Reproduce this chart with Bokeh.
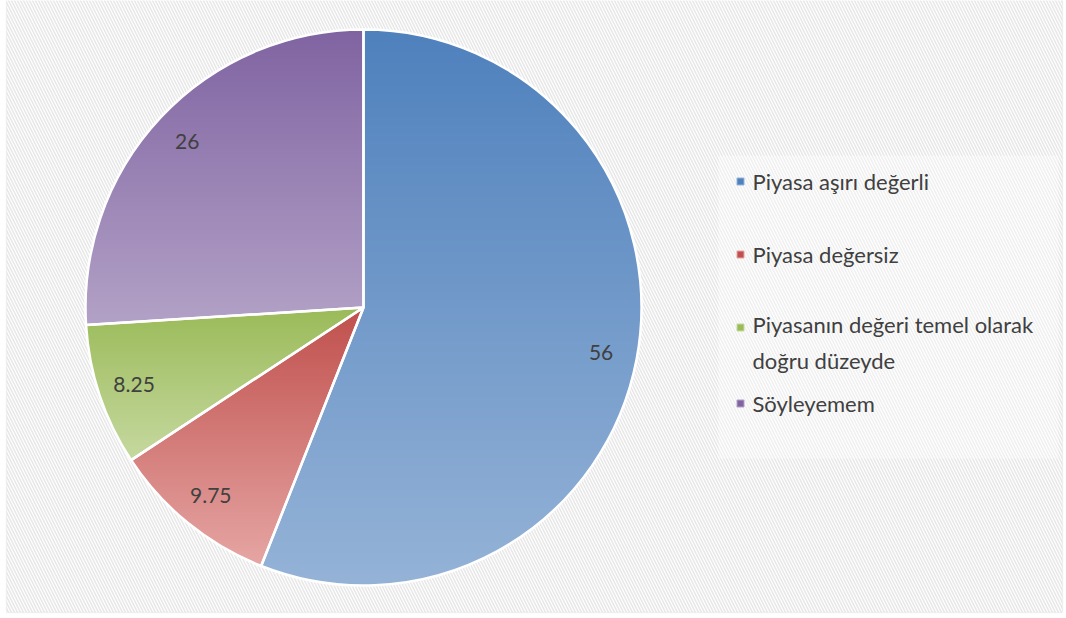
import numpy as np
from bokeh.plotting import figure
from bokeh.models import Range1d, BoxAnnotation, ColumnDataSource
from bokeh.core.properties import value
from bokeh.embed import file_html
from bokeh.resources import INLINE

# ---- data ----
categories = ["Piyasa aşırı değerli", "Piyasa değersiz",
              "Piyasanın değeri temel olarak\ndoğru düzeyde", "Söyleyemem"]
values = [56, 9.75, 8.25, 26]
labels = ["56", "9.75", "8.25", "26"]
top_colors = ["#4F81BD", "#C0504D", "#9BBB59", "#8064A2"]
bottom_colors = ["#95B3D7", "#E6A6A4", "#C6D9A0", "#B3A2C7"]

# ---- layout (screen-pixel coordinates, y upward = -screen_y) ----
CX, CY, R = 363, -307, 278
W, H = 1066, 618

p = figure(width=W, height=H, output_backend="svg", toolbar_location=None,
           x_range=Range1d(0, W), y_range=Range1d(-H, 0),
           min_border=0, background_fill_color="white", border_fill_color="white")
p.axis.visible = False
p.grid.visible = False
p.outline_line_color = None

# hatched chart area with light border
p.add_layout(BoxAnnotation(left=6, right=1062, top=2, bottom=-612,
                           fill_color="white", fill_alpha=1.0,
                           line_color="#D9D9D9", line_width=1.5,
                           hatch_pattern="\\", hatch_color="#E8E8E8",
                           hatch_scale=6, hatch_weight=1.6, level="underlay"))
# lighter legend box
p.add_layout(BoxAnnotation(left=718, right=1058, top=-155, bottom=-458,
                           fill_color="white", fill_alpha=0.35, line_color=None,
                           level="underlay"))

vals = np.array(values, float)
frac = vals / vals.sum()
cum = np.concatenate([[0.0], np.cumsum(frac)])
start = np.pi / 2 - cum[:-1] * 2 * np.pi
end = np.pi / 2 - cum[1:] * 2 * np.pi

src = ColumnDataSource(dict(cat=categories, val=values, start=start, end=end,
                            color=top_colors))
# base wedges
p.wedge(x=CX, y=CY, radius=R, start_angle="start", end_angle="end",
        direction="clock", fill_color="color", line_color=None, source=src)

# gradient fill image (vertical gradient per slice bounding box)
def hex2rgb(h):
    h = h.lstrip("#")
    return np.array([int(h[i:i + 2], 16) for i in (0, 2, 4)], float)

n = 2 * R + 4
xs = CX - R - 2 + np.arange(n) + 0.5
ys = CY - R - 2 + np.arange(n) + 0.5
X, Y = np.meshgrid(xs, ys)
dx, dy = X - CX, Y - CY
rr = np.hypot(dx, dy)
theta = np.mod(np.arctan2(dx, dy), 2 * np.pi) / (2 * np.pi)
idx = np.clip(np.searchsorted(cum, theta, side="right") - 1, 0, len(values) - 1)

rgb = np.zeros((n, n, 3))
for i in range(len(values)):
    t = np.linspace(cum[i], cum[i + 1], 400) * 2 * np.pi
    yy = np.concatenate([[CY], CY + R * np.cos(t)])
    ytop, ybot = yy.max(), yy.min()
    g = np.clip((ytop - Y) / (ytop - ybot), 0, 1)[..., None]
    c = hex2rgb(top_colors[i]) + (hex2rgb(bottom_colors[i]) - hex2rgb(top_colors[i])) * g
    m = (idx == i)[..., None]
    rgb = np.where(m, c, rgb)
alpha = np.clip(R - rr + 0.5, 0, 1) * 255

img = np.empty((n, n), dtype=np.uint32)
view = img.view(dtype=np.uint8).reshape((n, n, 4))
view[..., 0] = rgb[..., 0].astype(np.uint8)
view[..., 1] = rgb[..., 1].astype(np.uint8)
view[..., 2] = rgb[..., 2].astype(np.uint8)
view[..., 3] = alpha.astype(np.uint8)
p.image_rgba(image=[img], x=CX - R - 2, y=CY - R - 2, dw=n, dh=n)

# white slice borders
p.wedge(x=CX, y=CY, radius=R, start_angle="start", end_angle="end",
        direction="clock", fill_color=None, line_color="white", line_width=2.5,
        source=src)

# data labels
mid = (cum[:-1] + cum[1:]) / 2 * 2 * np.pi
lab = ColumnDataSource(dict(x=CX + 0.87 * R * np.sin(mid), y=CY + 0.87 * R * np.cos(mid),
                            t=labels))
p.text(x="x", y="y", text="t", source=lab, text_align="center", text_baseline="middle",
       text_font=value("Lato"), text_font_size="21px", text_color="#404040")

# legend
leg_y = [-181, -254, -342, -403]
leg_my = [-181, -254, -327, -403]
p.scatter(x=[740] * 4, y=leg_my, marker="square", size=7, fill_color=top_colors,
          line_color=bottom_colors, line_width=1)
p.text(x=[752] * 4, y=leg_y, text=categories, text_align="left", text_baseline="middle",
       text_font=value("Lato"), text_font_size="22px", text_color="#404040",
       text_line_height=1.36)

open("out.html", "w").write(file_html(p, INLINE))
